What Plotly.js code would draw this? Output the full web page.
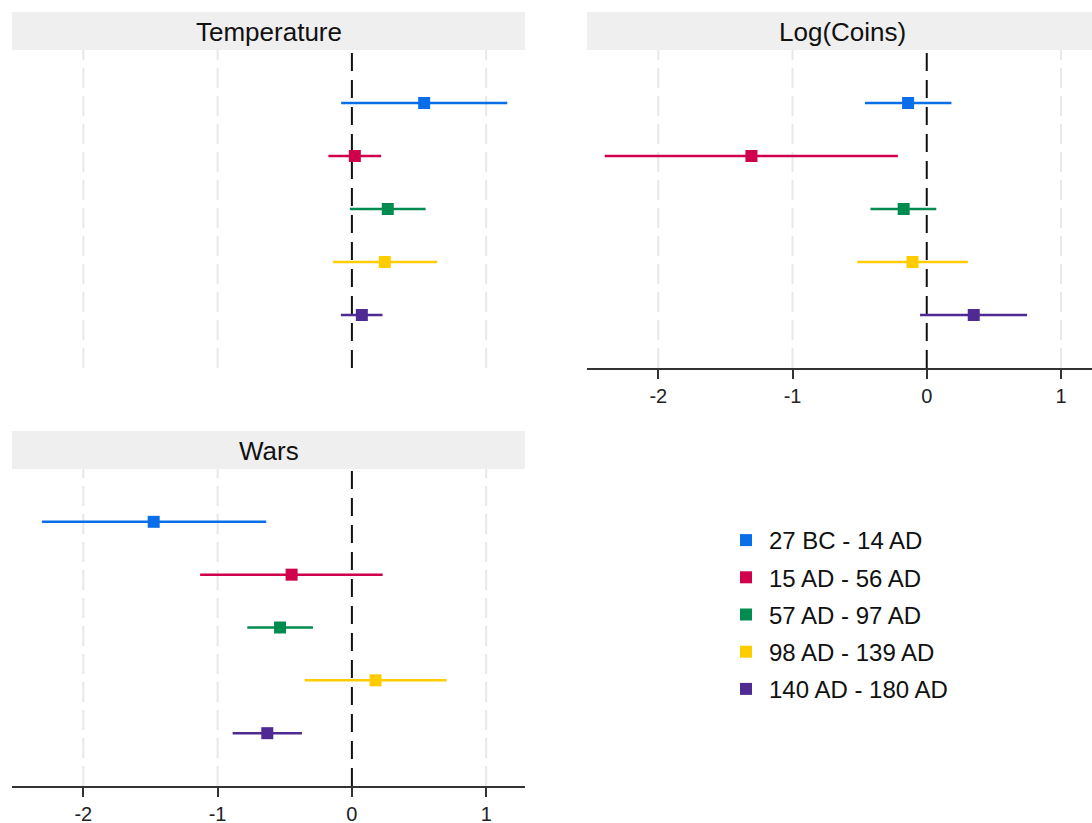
<!DOCTYPE html>
<html>
<head>
<meta charset="utf-8">
<script src="https://cdn.plot.ly/plotly-3.0.1.min.js"></script>
<style>html,body{margin:0;padding:0;background:#fff;}#chart{width:1092px;height:823px;}</style>
</head>
<body>
<div id="chart"></div>
<script>
// ---- data ----
const periods = ["27 BC - 14 AD", "15 AD - 56 AD", "57 AD - 97 AD", "98 AD - 139 AD", "140 AD - 180 AD"];
const colors = ["#0a6ee8", "#d0004c", "#008c4e", "#ffcc00", "#4e2a92"];

const panels = ["Temperature", "Log(Coins)", "Wars"];

const tempEst = [0.538, 0.022, 0.267, 0.245, 0.074];
const tempLo  = [-0.080, -0.175, -0.015, -0.140, -0.082];
const tempHi  = [1.157, 0.218, 0.549, 0.634, 0.228];

const coinsEst = [-0.139, -1.306, -0.172, -0.106, 0.350];
const coinsLo  = [-0.460, -2.399, -0.419, -0.518, -0.050];
const coinsHi  = [0.184, -0.215, 0.071, 0.306, 0.747];

const warsEst = [-1.476, -0.449, -0.535, 0.176, -0.630];
const warsLo  = [-2.308, -1.130, -0.779, -0.351, -0.888];
const warsHi  = [-0.638, 0.229, -0.290, 0.705, -0.372];

const tickVals = [-2, -1, 0, 1];
const tickText = ["-2", "-1", "0", "1"];

// ---- build ----
const FONT = "Arial, 'Liberation Sans', sans-serif";
const sets = [
  {est: tempEst, lo: tempLo, hi: tempHi, xa: "x", ya: "y"},
  {est: coinsEst, lo: coinsLo, hi: coinsHi, xa: "x2", ya: "y2"},
  {est: warsEst, lo: warsLo, hi: warsHi, xa: "x3", ya: "y3"}
];

const traces = [];
sets.forEach((s, pi) => {
  periods.forEach((p, i) => {
    traces.push({
      type: "scatter",
      mode: "markers",
      x: [s.est[i]],
      y: [p],
      xaxis: s.xa,
      yaxis: s.ya,
      name: p,
      legendgroup: p,
      showlegend: pi === 0,
      marker: {symbol: "square", size: 12, color: colors[i], line: {width: 0}},
      error_x: {
        type: "data", symmetric: false,
        array: [s.hi[i] - s.est[i]],
        arrayminus: [s.est[i] - s.lo[i]],
        color: colors[i], thickness: 2.5, width: 0
      },
      hoverinfo: "x+name"
    });
  });
});

function xaxis(domain, range, showAxis) {
  return {
    domain: domain, range: range, fixedrange: true,
    tickvals: tickVals, ticktext: tickText,
    showgrid: false, zeroline: false,
    showline: showAxis, linecolor: "#333333", linewidth: 1.6,
    ticks: showAxis ? "outside" : "", ticklen: 9, tickwidth: 1.6, tickcolor: "#333333",
    showticklabels: showAxis,
    tickfont: {family: FONT, size: 20, color: "#222"}
  };
}
function yaxis(domain) {
  return {
    domain: domain, type: "category", categoryarray: periods, categoryorder: "array",
    range: [5, -1], fixedrange: true,
    showgrid: false, zeroline: false, showline: false, ticks: "", showticklabels: false
  };
}

const W = 1092, H = 823;
const px = v => v / W, py = v => 1 - v / H;
const dTopY = [py(368), py(50)];
const dBotY = [py(786), py(469)];
const dLeftX = [px(12), px(525)];
const dRightX = [px(587), 1];

const shapes = [
  // strips
  {type: "rect", xref: "paper", yref: "paper", x0: px(12), x1: px(525), y0: py(50), y1: py(12), fillcolor: "#efefef", line: {width: 0}, layer: "below"},
  {type: "rect", xref: "paper", yref: "paper", x0: px(587), x1: 1, y0: py(50), y1: py(12), fillcolor: "#efefef", line: {width: 0}, layer: "below"},
  {type: "rect", xref: "paper", yref: "paper", x0: px(12), x1: px(525), y0: py(469), y1: py(431), fillcolor: "#efefef", line: {width: 0}, layer: "below"}
];
// dashed grid lines at the tick values, black dashed reference line at zero
[["x", "y"], ["x2", "y2"], ["x3", "y3"]].forEach(([xa, ya]) => {
  tickVals.forEach(v => {
    const zero = v === 0;
    shapes.push({
      type: "line", xref: xa, yref: ya + " domain", x0: v, x1: v, y0: 0, y1: 1,
      line: zero ? {color: "#111", width: 2, dash: "18px,9px"} : {color: "#e8e8e8", width: 2, dash: "20px,8px"},
      layer: "below"
    });
  });
});

const layout = {
  width: W, height: H,
  margin: {l: 0, r: 0, t: 0, b: 0},
  paper_bgcolor: "#ffffff", plot_bgcolor: "rgba(0,0,0,0)",
  font: {family: FONT, color: "#111"},
  showlegend: true,
  legend: {
    x: px(723), y: py(518), xanchor: "left", yanchor: "top",
    font: {family: FONT, size: 24, color: "#111"},
    itemwidth: 36,
    tracegroupgap: 3, bgcolor: "rgba(0,0,0,0)", itemclick: false, itemdoubleclick: false
  },
  xaxis: Object.assign(xaxis(dLeftX, [-2.531, 1.289], false), {anchor: "y"}),
  yaxis: Object.assign(yaxis(dTopY), {anchor: "x"}),
  xaxis2: Object.assign(xaxis(dRightX, [-2.531, 1.231], true), {anchor: "y2"}),
  yaxis2: Object.assign(yaxis(dTopY), {anchor: "x2"}),
  xaxis3: Object.assign(xaxis(dLeftX, [-2.531, 1.289], true), {anchor: "y3"}),
  yaxis3: Object.assign(yaxis(dBotY), {anchor: "x3"}),
  shapes: shapes,
  annotations: [
    {text: panels[0], xref: "paper", yref: "paper", x: (px(12) + px(525)) / 2, y: py(32), xanchor: "center", yanchor: "middle", showarrow: false, font: {family: FONT, size: 26, color: "#111"}},
    {text: panels[1], xref: "paper", yref: "paper", x: (px(587) + px(1099)) / 2, y: py(32), xanchor: "center", yanchor: "middle", showarrow: false, font: {family: FONT, size: 26, color: "#111"}},
    {text: panels[2], xref: "paper", yref: "paper", x: (px(12) + px(525)) / 2, y: py(451), xanchor: "center", yanchor: "middle", showarrow: false, font: {family: FONT, size: 26, color: "#111"}}
  ]
};

Plotly.newPlot("chart", traces, layout, {displayModeBar: false});
</script>
</body>
</html>
